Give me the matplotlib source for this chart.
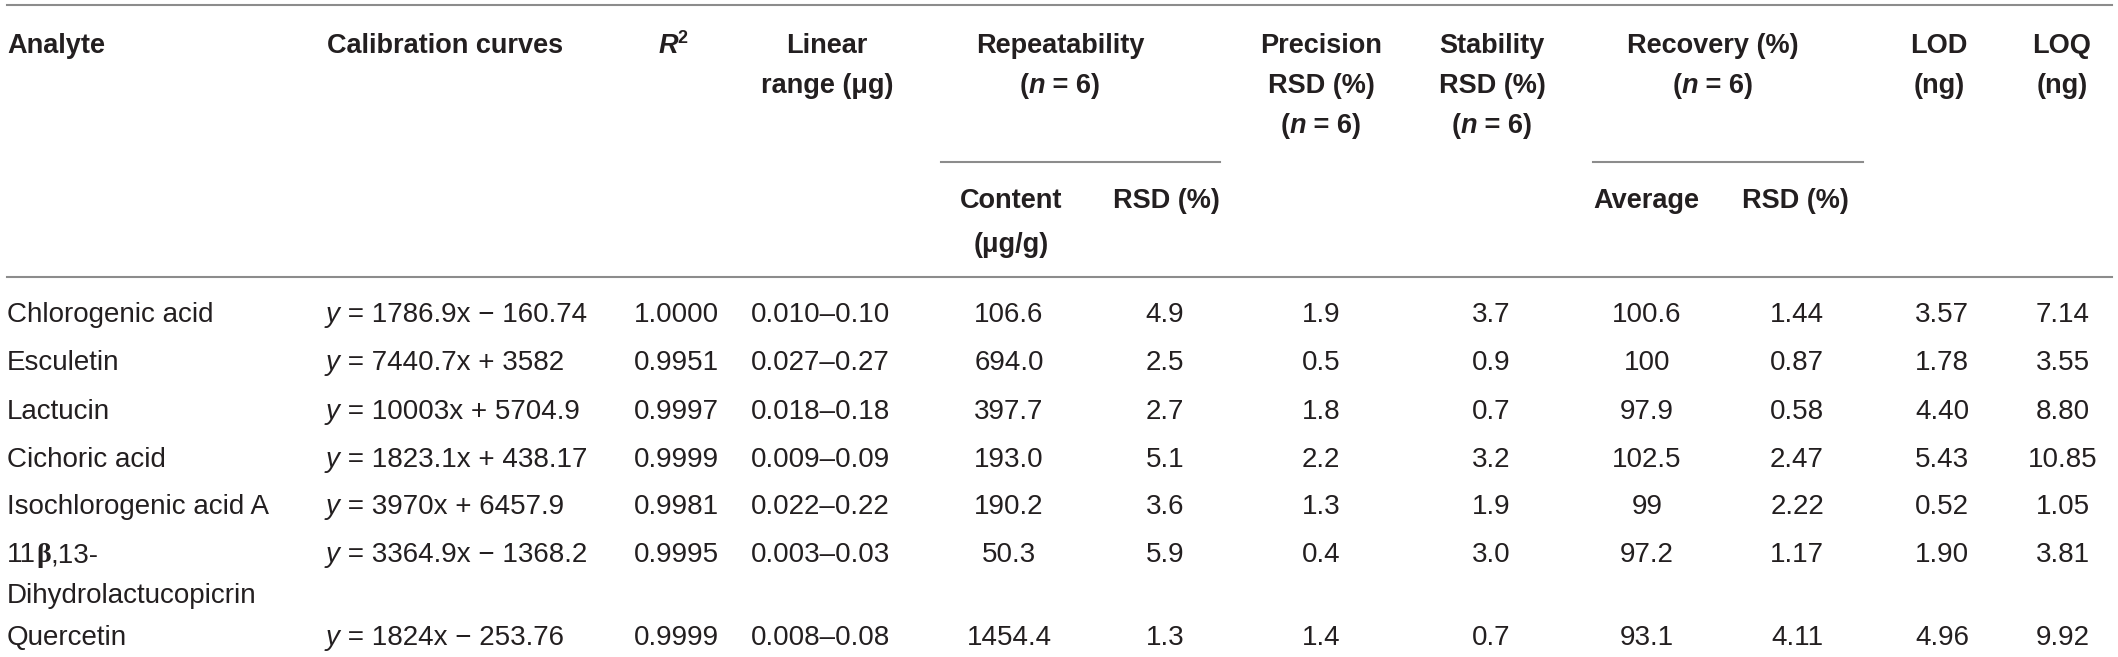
#!/usr/bin/env python3

import matplotlib
matplotlib.use("Agg")
import matplotlib.pyplot as plt

plt.rcParams['font.family'] = ['Liberation Sans', 'DejaVu Sans']

# table data
analytes = ["Chlorogenic acid", "Esculetin", "Lactucin", "Cichoric acid",
            "Isochlorogenic acid A", "11β,13-Dihydrolactucopicrin", "Quercetin"]
curves = ["1786.9x − 160.74", "7440.7x + 3582", "10003x + 5704.9", "1823.1x + 438.17",
          "3970x + 6457.9", "3364.9x − 1368.2", "1824x − 253.76"]
r2 = ["1.0000", "0.9951", "0.9997", "0.9999", "0.9981", "0.9995", "0.9999"]
lin_range = ["0.010–0.10", "0.027–0.27", "0.018–0.18", "0.009–0.09",
             "0.022–0.22", "0.003–0.03", "0.008–0.08"]
content = ["106.6", "694.0", "397.7", "193.0", "190.2", "50.3", "1454.4"]
rep_rsd = ["4.9", "2.5", "2.7", "5.1", "3.6", "5.9", "1.3"]
precision = ["1.9", "0.5", "1.8", "2.2", "1.3", "0.4", "1.4"]
stability = ["3.7", "0.9", "0.7", "3.2", "1.9", "3.0", "0.7"]
rec_avg = ["100.6", "100", "97.9", "102.5", "99", "97.2", "93.1"]
rec_rsd = ["1.44", "0.87", "0.58", "2.47", "2.22", "1.17", "4.11"]
lod = ["3.57", "1.78", "4.40", "5.43", "0.52", "1.90", "4.96"]
loq = ["7.14", "3.55", "8.80", "10.85", "1.05", "3.81", "9.92"]

W, H = 2118, 657
fig = plt.figure(figsize=(W / 100, H / 100), dpi=100)
ax = fig.add_axes([0, 0, 1, 1])
ax.set_xlim(0, W)
ax.set_ylim(H, 0)
ax.axis('off')
renderer = fig.canvas.get_renderer()

TXT = '#231f20'
RULE = '#8c8c8c'
FS_DATA = 20
FS_HEAD = 19.5

REG = {}
BOLD = {'fontweight': 'bold'}
BI = {'fontweight': 'bold', 'fontstyle': 'italic'}
IT = {'fontstyle': 'italic'}


def measure(s, props, size):
    t = ax.text(0, 0, "|" + s + "|", fontsize=size, **props)
    w1 = t.get_window_extent(renderer).width
    t.set_text("||")
    w0 = t.get_window_extent(renderer).width
    t.remove()
    return w1 - w0


def put(x, y, segs, ha='left', size=FS_DATA):
    # y is the baseline (pixels from top)
    widths = []
    for s, p in segs:
        p = dict(p)
        sz = p.pop('size', size)
        p.pop('dy', None)
        widths.append(measure(s, p, sz))
    total = sum(widths)
    x0 = x if ha == 'left' else x - total / 2
    for (s, p), w in zip(segs, widths):
        p = dict(p)
        sz = p.pop('size', size)
        dy = p.pop('dy', 0)
        ax.text(x0, y + dy, s, fontsize=sz, color=TXT, va='baseline', ha='left', **p)
        x0 += w


def head(x, y, s, ha='center'):
    put(x, y, [(s, BOLD)], ha=ha, size=FS_HEAD)


n6 = [("(", BOLD), ("n", BI), (" = 6)", BOLD)]

# rules
ax.plot([7, 2112], [5, 5], color=RULE, lw=1.5)
ax.plot([7, 2112], [277, 277], color=RULE, lw=1.5)
ax.plot([941, 1220], [162, 162], color=RULE, lw=1.5)
ax.plot([1593, 1863], [162, 162], color=RULE, lw=1.5)

# header
b1, b2, b3 = 53, 93, 133
head(7, b1, "Analyte", ha='left')
head(327, b1, "Calibration curves", ha='left')
put(673, b1, [("R", BI), ("2", dict(BOLD, size=13, dy=-10))], ha='center', size=FS_HEAD)
head(827, b1, "Linear")
head(827, b2, "range (μg)")
head(1060, b1, "Repeatability")
put(1060, b2, n6, ha='center', size=FS_HEAD)
head(1321, b1, "Precision")
head(1321, b2, "RSD (%)")
put(1321, b3, n6, ha='center', size=FS_HEAD)
head(1492, b1, "Stability")
head(1492, b2, "RSD (%)")
put(1492, b3, n6, ha='center', size=FS_HEAD)
head(1713, b1, "Recovery (%)")
put(1713, b2, n6, ha='center', size=FS_HEAD)
head(1939, b1, "LOD")
head(1939, b2, "(ng)")
head(2062, b1, "LOQ")
head(2062, b2, "(ng)")

head(1011, 208, "Content")
head(1011, 252, "(μg/g)")
head(1166, 208, "RSD (%)")
head(1646, 208, "Average")
head(1795, 208, "RSD (%)")

# body
row_base = [322, 370, 419, 467, 514, 562, 645]
for i, yb in enumerate(row_base):
    name = analytes[i]
    if name.startswith("11β"):
        put(7, yb, [("11", REG), ("β", {'fontweight': 'bold', 'family': 'Liberation Serif'}),
                    (",13-", REG)])
        put(7, yb + 41, [("Dihydrolactucopicrin", REG)])
    else:
        put(7, yb, [(name, REG)])
    put(326, yb, [("y", IT), (" = " + curves[i], REG)])
    put(676, yb, [(r2[i], REG)], ha='center')
    put(820, yb, [(lin_range[i], REG)], ha='center')
    put(1009, yb, [(content[i], REG)], ha='center')
    put(1165, yb, [(rep_rsd[i], REG)], ha='center')
    put(1321, yb, [(precision[i], REG)], ha='center')
    put(1491, yb, [(stability[i], REG)], ha='center')
    put(1647, yb, [(rec_avg[i], REG)], ha='center')
    put(1797, yb, [(rec_rsd[i], REG)], ha='center')
    put(1942, yb, [(lod[i], REG)], ha='center')
    put(2063, yb, [(loq[i], REG)], ha='center')

fig.savefig("out.png", dpi=100, facecolor='white')
